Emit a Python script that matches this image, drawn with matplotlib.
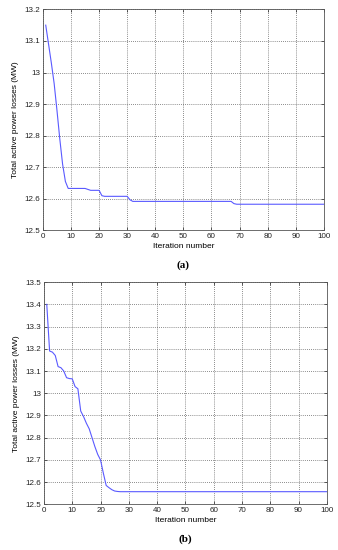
import matplotlib
matplotlib.use("Agg")
import matplotlib.pyplot as plt
from matplotlib.ticker import FuncFormatter

plt.rcParams['font.family'] = ['Liberation Sans', 'DejaVu Sans']

# (a) convergence curve - only the points where the curve changes
iter_a = [1, 2, 3, 4, 5, 6, 7, 8, 9, 15, 16, 17, 20, 21, 22, 30, 31, 32, 67, 68, 69, 100]
loss_a = [13.15, 13.09, 13.03, 12.965, 12.88, 12.79, 12.71, 12.655, 12.633, 12.633,
          12.630, 12.627, 12.627, 12.610, 12.608, 12.608, 12.597, 12.592, 12.592,
          12.585, 12.583, 12.583]

# (b) convergence curve
iter_b = [1, 2, 3, 4, 5, 6, 7, 8, 9, 10, 11, 12, 13, 14, 15, 16, 17, 18, 19, 20,
          21, 22, 23, 24, 25, 26, 27, 100]
loss_b = [13.40, 13.19, 13.185, 13.17, 13.12, 13.115, 13.10, 13.07, 13.066, 13.065,
          13.03, 13.02, 12.92, 12.895, 12.865, 12.84, 12.80, 12.76, 12.725, 12.70,
          12.64, 12.585, 12.575, 12.566, 12.56, 12.558, 12.557, 12.557]

xticks = [0, 10, 20, 30, 40, 50, 60, 70, 80, 90, 100]
yticks_a = [12.5, 12.6, 12.7, 12.8, 12.9, 13.0, 13.1, 13.2]
yticks_b = [12.5, 12.6, 12.7, 12.8, 12.9, 13.0, 13.1, 13.2, 13.3, 13.4, 13.5]

fig = plt.figure(figsize=(3.38, 5.5), dpi=100)
ax1 = fig.add_axes([0.127, 0.581, 0.831, 0.402])
ax2 = fig.add_axes([0.130, 0.083, 0.837, 0.404])

# matlab style labels: 13 instead of 13.0
fmt = FuncFormatter(lambda v, p: '%g' % round(v, 2))

def style(ax, x, y, yt, caption):
    ax.plot(x, y, color='#5a5aff', lw=0.8)
    ax.set_xlim(0, 100)
    ax.set_ylim(yt[0], yt[-1])
    ax.set_xticks(xticks)
    ax.set_yticks(yt)
    ax.yaxis.set_major_formatter(fmt)
    ax.grid(True, linestyle=(0, (1, 1.5)), color='#666666', lw=0.6)
    ax.tick_params(direction='in', length=2, width=0.5, labelsize=5.8,
                   top=True, right=True, pad=2, colors='#222222')
    for s in ax.spines.values():
        s.set_linewidth(0.6)
        s.set_color('#555555')
    ax.set_xlabel('Iteration number', fontsize=6, labelpad=2)
    ax.set_ylabel('Total active power losses (MW)', fontsize=6, labelpad=4)
    ax.text(0.5, -0.155, caption, transform=ax.transAxes, ha='center', va='center',
            fontsize=8, fontweight='bold', family='Liberation Serif')

style(ax1, iter_a, loss_a, yticks_a, '(a)')
style(ax2, iter_b, loss_b, yticks_b, '(b)')

fig.savefig('out.png', dpi=100)
